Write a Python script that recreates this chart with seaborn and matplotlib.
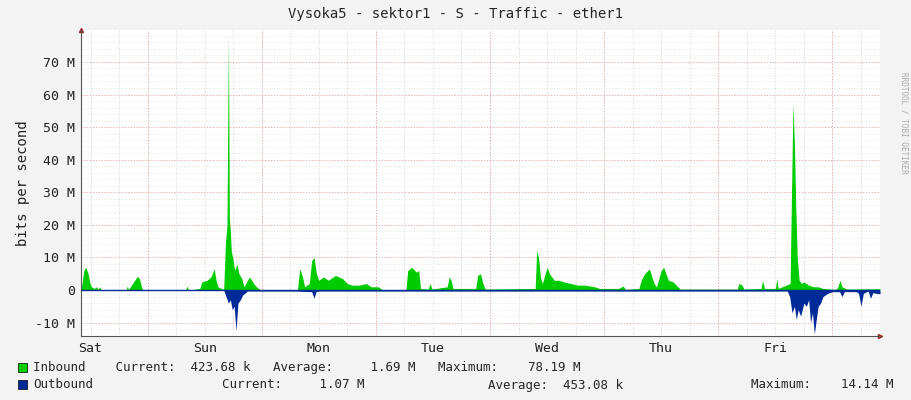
import matplotlib
matplotlib.use("Agg")
import matplotlib.pyplot as plt
import seaborn as sns
import numpy as np

sns.set_theme(style="white")
plt.rcParams['font.family'] = ['DejaVu Sans Mono']

# hours from start of chart (Sat ~10:00), values in Mbit/s
in_hours = [0, 0.6, 1.0, 1.5, 1.9, 2.2, 2.8, 3.2, 3.6, 4.0, 4.2, 9.5, 9.7, 10.0, 11.3, 11.8, 12.3, 12.7, 13.0,
            22.0, 22.3, 22.6, 25.0, 25.4, 26.5, 27.3, 28.0, 28.4, 28.8, 29.5, 30.0, 30.4, 30.7, 31.0, 31.2, 31.4,
            31.6, 32.0, 32.3, 32.8, 33.2, 33.8, 34.3, 34.8, 35.4, 35.9, 36.3, 36.9, 37.3, 38.0,
            45.5, 46.0, 46.6, 47.0, 48.0, 48.5, 49.0, 49.5, 50.0, 51.0, 52.0, 53.5, 55.0, 56.0, 57.0, 58.5, 60.0, 61.0, 62.5, 63.5,
            68.3, 68.7, 69.5, 70.5, 71.0, 71.4, 73.0, 73.4, 73.8, 77.0, 77.4, 77.8, 78.2, 83.0, 83.4, 84.0, 84.5, 85.0,
            95.5, 95.8, 96.2, 96.6, 97.0, 98.0, 98.5, 99.5, 100.5, 101.5, 103.0, 104.5, 106.0, 108.0, 109.0, 113.0, 114.0, 114.5,
            117.3, 117.8, 118.5, 119.5, 120.5, 121.0, 122.0, 122.5, 123.0, 123.5, 124.5, 125.5, 126.0,
            138.0, 138.3, 139.0, 139.4, 143.0, 143.3, 143.7, 146.0, 146.3, 146.6, 149.1, 149.4, 149.7, 150.0, 150.3, 150.6,
            151.0, 151.5, 152.0, 153.0, 154.0, 155.0, 156.0, 157.5, 158.5, 159.0, 159.6, 160.0, 161.0, 168.0]
inbound = [0, 6, 7, 5, 2, 1, 0.5, 1, 0.3, 1, 0, 0, 1.2, 0.2, 3, 4.2, 3.5, 1, 0,
           0, 1.2, 0, 0.5, 2.5, 3, 4, 6.5, 3, 1, 0.5, 0.3, 15, 20, 78.2, 22, 18,
           12, 9, 6, 8, 5, 3.5, 1, 2.5, 4, 3, 2, 1, 0.5, 0,
           0, 6.5, 4, 1, 2, 9, 10, 5, 3, 4, 3, 4.5, 3.5, 2, 1.5, 1.5, 2, 1, 1, 0,
           0, 6, 7, 5.5, 6, 0.5, 0.3, 2, 0.3, 1, 4, 3, 0.5, 0.5, 4.5, 5, 2, 0.3,
           0.5, 12, 10, 4, 2, 7, 5, 3, 3, 2.5, 2, 1.5, 1.5, 1, 0.5, 0.5, 1.2, 0.2,
           0.5, 3, 5, 6.5, 2, 1, 6, 7, 5, 3, 2.5, 1, 0.3,
           0.3, 2, 1.5, 0.3, 0.5, 3, 0.5, 0.5, 3.5, 0.5, 2, 30, 57, 45, 25, 10,
           3, 2, 2.5, 1.5, 1, 1, 0.5, 0.3, 0.2, 0.5, 3, 1, 0.3, 0.4]
out_hours = [0, 30.0, 30.5, 31.0, 31.4, 31.8, 32.2, 32.6, 33.0, 33.5, 34.0, 35.0, 45.0, 48.5, 49.0, 49.4, 50.0,
             148.5, 149.0, 149.5, 150.0, 150.4, 150.8, 151.3, 152.0, 152.5, 153.0, 153.4, 153.8, 154.2, 154.6, 155.0,
             155.5, 156.0, 157.0, 158.0, 159.5, 160.0, 160.5, 163.0, 163.5, 164.0, 164.5, 165.5, 166.0, 166.5, 167.5, 168.0]
outbound = [0, 0, -2, -4, -3, -6, -5, -12.5, -4, -3, -1.5, -0.3, -0.3, -0.5, -2.5, -0.5, -0.3,
            -0.3, -2, -7, -5, -9, -6, -8, -4, -5, -3, -10, -7, -13.5, -9, -5,
            -4, -2, -1, -0.5, -0.5, -2, -0.5, -0.5, -1, -5, -1, -0.3, -2.5, -0.8, -1.1, -1.1]

day_labels = ["Sat", "Sun", "Mon", "Tue", "Wed", "Thu", "Fri"]
ytick_vals = [-10, 0, 10, 20, 30, 40, 50, 60, 70]

fig = plt.figure(figsize=(9.11, 4.0), dpi=100, facecolor="#F3F3F3")
ax = fig.add_axes([81/911, 64/400, 799/911, 306/400])
ax.set_facecolor("white")

# grid
for h in np.arange(2, 168, 6):
    ax.axvline(h, color="#cccccc", lw=0.6, ls=(0, (1, 2)), zorder=0)
for h in np.arange(14, 168, 24):
    ax.axvline(h, color="#f3a0a0", lw=0.7, ls=(0, (1, 2)), zorder=0)
for v in np.arange(-14, 80, 2):
    ax.axhline(v, color="#dddddd", lw=0.6, ls=(0, (1, 2)), zorder=0)
for v in ytick_vals:
    ax.axhline(v, color="#f3a0a0", lw=0.7, ls=(0, (1, 2)), zorder=0)

ax.fill_between(in_hours, 0, inbound, color="#00CC00", lw=0, zorder=2)
ax.fill_between(out_hours, 0, outbound, color="#002A97", lw=0, zorder=2)
sns.lineplot(x=[0, 168], y=[0, 0], color="#002A97", lw=1, ax=ax, zorder=3)

ax.set_xlim(0, 168)
ax.set_ylim(-14.1, 79.8)
ax.set_xticks([2 + 24*i for i in range(7)])
ax.set_xticklabels(day_labels)
ax.set_yticks(ytick_vals)
ax.set_yticklabels([("%d M" % v) if v != 0 else "0" for v in ytick_vals])
ax.tick_params(labelsize=9.5, length=0, pad=4, colors="#222222")
for s in ["top", "right"]:
    ax.spines[s].set_visible(False)
for s in ["left", "bottom"]:
    ax.spines[s].set_color("#555555")
    ax.spines[s].set_linewidth(0.8)
ax.set_ylabel("bits per second", fontsize=10, color="#222222")
ax.plot(0, 1, "^", color="#a03030", ms=3, transform=ax.transAxes, clip_on=False)
ax.plot(1, 0, ">", color="#a03030", ms=3, transform=ax.transAxes, clip_on=False)

fig.text(0.5, 1 - 14/400, "Vysoka5 - sektor1 - S - Traffic - ether1", ha="center", va="center", fontsize=10)
fig.text(904/911, 0.5 + 0.32, "RRDTOOL / TOBI OETIKER", rotation=270, fontsize=5.5, color="#aaaaaa",
         ha="center", va="top")

fs = 9
fig.patches.append(plt.Rectangle((18/911, 1 - 372/400), 9/911, 9/400, fc="#00CC00",
                                 transform=fig.transFigure, figure=fig, ec="black", lw=0.5))
fig.patches.append(plt.Rectangle((18/911, 1 - 389/400), 9/911, 9/400, fc="#002A97",
                                 transform=fig.transFigure, figure=fig, ec="black", lw=0.5))
y1, y2 = 1 - 368/400, 1 - 385/400
fig.text(33/911, y1, "Inbound    Current:  423.68 k   Average:     1.69 M   Maximum:    78.19 M",
         fontsize=fs, va="center")
fig.text(33/911, y2, "Outbound", fontsize=fs, va="center")
fig.text(222/911, y2, "Current:     1.07 M", fontsize=fs, va="center")
fig.text(488/911, y2, "Average:  453.08 k", fontsize=fs, va="center")
fig.text(751/911, y2, "Maximum:    14.14 M", fontsize=fs, va="center")

fig.savefig("out.png", dpi=100, facecolor=fig.get_facecolor())
